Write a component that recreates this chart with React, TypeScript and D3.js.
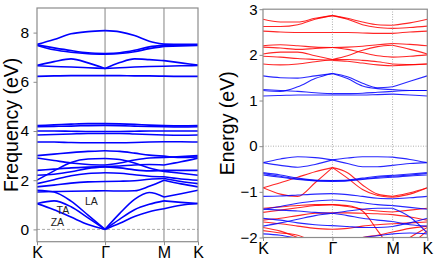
import React, { useEffect, useRef } from 'react';
import * as d3 from 'd3';

// high-symmetry path K - Γ - M - K (hexagonal, |ΓK| = 1)
const kLabels = ['K', 'Γ', 'M', 'K'];
const kTicks = [0, 1, 1.866, 2.366];
const kSamples = [0, 0.25, 0.5, 0.75, 1, 1.2165, 1.433, 1.6495, 1.866, 2.116, 2.366];

const freqTicks = [0, 2, 4, 6, 8];
const energyTicks = [-2, -1, 0, 1, 2, 3];

// phonon branches, values at kSamples
const phononBands = [
  [1.05, 0.80, 0.50, 0.20, 0.00, 0.25, 0.52, 0.72, 0.84, 0.98, 1.05],
  [1.05, 1.16, 0.92, 0.47, 0.00, 0.42, 0.80, 1.02, 1.16, 1.10, 1.05],
  [1.59, 1.52, 1.15, 0.58, 0.00, 0.65, 1.22, 1.50, 1.32, 1.45, 1.59],
  [1.52, 1.54, 1.55, 1.56, 1.57, 1.56, 1.57, 1.75, 2.00, 1.85, 1.73],
  [1.73, 1.80, 1.88, 1.93, 1.95, 1.96, 1.98, 2.04, 2.07, 1.95, 1.86],
  [1.86, 2.02, 2.18, 2.27, 2.30, 2.28, 2.22, 2.16, 2.14, 2.05, 2.00],
  [2.00, 2.38, 2.72, 2.86, 2.88, 2.84, 2.70, 2.50, 2.36, 2.28, 2.20],
  [2.20, 2.24, 2.34, 2.48, 2.54, 2.50, 2.42, 2.38, 2.40, 2.40, 2.40],
  [2.40, 2.45, 2.50, 2.53, 2.55, 2.58, 2.62, 2.64, 2.62, 2.75, 2.90],
  [2.90, 2.80, 2.70, 2.64, 2.62, 2.70, 2.82, 2.90, 2.92, 2.96, 3.00],
  [3.00, 3.06, 3.12, 3.17, 3.20, 3.17, 3.10, 3.02, 2.98, 2.92, 2.95],
  [3.55, 3.55, 3.53, 3.52, 3.52, 3.52, 3.53, 3.55, 3.56, 3.56, 3.55],
  [3.84, 3.86, 3.88, 3.90, 3.90, 3.90, 3.88, 3.86, 3.84, 3.83, 3.84],
  [4.00, 4.00, 3.99, 3.98, 3.98, 3.98, 3.99, 4.00, 4.00, 4.00, 4.00],
  [4.17, 4.19, 4.20, 4.22, 4.23, 4.22, 4.20, 4.18, 4.17, 4.16, 4.17],
  [4.22, 4.25, 4.28, 4.30, 4.30, 4.29, 4.27, 4.24, 4.22, 4.21, 4.22],
  [6.22, 6.24, 6.25, 6.25, 6.25, 6.25, 6.24, 6.24, 6.23, 6.22, 6.22],
  [6.65, 6.62, 6.60, 6.57, 6.54, 6.57, 6.60, 6.62, 6.63, 6.65, 6.66],
  [6.67, 6.82, 6.93, 6.77, 6.54, 6.78, 6.93, 6.90, 6.86, 6.77, 6.68],
  [7.48, 7.30, 7.20, 7.14, 7.12, 7.15, 7.22, 7.35, 7.44, 7.46, 7.48],
  [7.50, 7.38, 7.27, 7.18, 7.15, 7.18, 7.28, 7.42, 7.48, 7.50, 7.50],
  [7.52, 7.72, 7.95, 8.04, 8.08, 8.03, 7.88, 7.65, 7.53, 7.52, 7.52],
];

const branchLabels = [
  { text: 'ZA', k: 0.30, f: 0.28 },
  { text: 'TA', k: 0.38, f: 0.79 },
  { text: 'LA', k: 0.80, f: 1.13 },
];

// electronic bands (eV)
const redBands = [
  [2.78, 2.72, 2.72, 2.80, 2.86, 2.80, 2.72, 2.66, 2.65, 2.70, 2.78],
  [2.62, 2.62, 2.66, 2.78, 2.86, 2.78, 2.66, 2.60, 2.58, 2.60, 2.63],
  [2.52, 2.50, 2.49, 2.49, 2.49, 2.49, 2.48, 2.47, 2.47, 2.50, 2.52],
  [2.20, 2.22, 2.20, 2.17, 2.16, 2.17, 2.19, 2.22, 2.25, 2.23, 2.20],
  [2.17, 2.15, 2.12, 2.14, 2.16, 2.12, 2.05, 1.98, 1.95, 1.97, 2.00],
  [2.02, 2.06, 2.06, 1.98, 1.90, 1.98, 2.10, 2.18, 2.21, 2.12, 2.02],
  [1.97, 1.95, 1.92, 1.90, 1.88, 1.86, 1.82, 1.78, 1.76, 1.78, 1.80],
  [1.80, 1.78, 1.80, 1.85, 1.90, 1.90, 1.88, 1.85, 1.80, 1.79, 1.80],
  [-0.91, -0.80, -0.68, -0.56, -0.47, -0.58, -0.85, -1.05, -1.10, -1.02, -0.91],
  [-0.91, -1.05, -1.10, -0.80, -0.47, -0.70, -0.95, -1.08, -1.12, -1.05, -0.91],
  [-1.36, -1.33, -1.30, -1.28, -1.28, -1.32, -1.38, -1.42, -1.44, -1.40, -1.36],
  [-1.45, -1.40, -1.35, -1.30, -1.28, -1.30, -1.42, -1.85, -2.30, -2.15, -1.85],
  [-1.62, -1.58, -1.52, -1.47, -1.46, -1.46, -1.47, -1.48, -1.50, -1.55, -1.62],
  [-1.66, -1.70, -1.75, -1.80, -1.82, -1.80, -1.75, -1.72, -1.70, -1.68, -1.66],
  [-1.85, -1.90, -1.95, -2.10, -2.20, -2.10, -2.00, -1.95, -1.88, -1.80, -1.75],
  [-1.78, -1.86, -2.00, -2.15, -2.25, -2.20, -2.10, -2.20, -2.30, -2.00, -1.78],
];

const blueBands = [
  [1.54, 1.50, 1.49, 1.54, 1.59, 1.52, 1.38, 1.28, 1.30, 1.42, 1.54],
  [1.22, 1.20, 1.30, 1.48, 1.59, 1.48, 1.32, 1.26, 1.24, 1.22, 1.22],
  [1.24, 1.22, 1.20, 1.17, 1.15, 1.15, 1.16, 1.18, 1.20, 1.22, 1.22],
  [1.10, 1.11, 1.12, 1.12, 1.12, 1.12, 1.12, 1.13, 1.14, 1.12, 1.10],
  [-0.36, -0.28, -0.23, -0.25, -0.30, -0.26, -0.23, -0.23, -0.24, -0.29, -0.36],
  [-0.36, -0.42, -0.46, -0.40, -0.30, -0.38, -0.45, -0.45, -0.42, -0.38, -0.36],
  [-0.58, -0.63, -0.70, -0.74, -0.75, -0.74, -0.70, -0.66, -0.64, -0.61, -0.58],
  [-0.60, -0.66, -0.72, -0.75, -0.76, -0.75, -0.72, -0.68, -0.66, -0.63, -0.60],
  [-0.63, -0.68, -0.73, -0.76, -0.77, -0.76, -0.73, -0.70, -0.68, -0.65, -0.63],
  [-1.10, -1.09, -1.07, -1.05, -1.04, -1.06, -1.10, -1.14, -1.15, -1.13, -1.10],
  [-1.38, -1.32, -1.25, -1.20, -1.18, -1.20, -1.24, -1.28, -1.30, -1.34, -1.38],
  [-1.75, -1.68, -1.60, -1.52, -1.47, -1.42, -1.38, -1.36, -1.36, -1.55, -1.90],
  [-1.38, -1.40, -1.42, -1.45, -1.47, -1.52, -1.58, -1.62, -1.65, -1.72, -1.75],
  [-1.58, -1.62, -1.68, -1.72, -1.74, -1.76, -1.78, -1.78, -1.76, -1.68, -1.58],
  [-1.92, -1.95, -2.02, -2.08, -2.10, -2.06, -2.00, -1.96, -1.92, -1.90, -1.92],
];

const FONT = "'Liberation Sans', Arial, Helvetica, sans-serif";
const FRAME = '#8c8c8c';

// split a band at Γ and M so the segments can kink there
const segments = [[0, 4], [4, 8], [8, 10]];

const App = () => {
  const ref = useRef<SVGSVGElement>(null);

  useEffect(() => {
    const svg = d3.select(ref.current);
    svg.selectAll('*').remove();

    const drawPanel = (opts: any) => {
      const { x, y, id, ticks, label, labelX, tickFont, tickPad } = opts;
      const [x0, x1] = x.range();
      const [y0, y1] = y.range();
      const g = svg.append('g');

      g.append('clipPath').attr('id', id)
        .append('rect').attr('x', x0).attr('y', y1).attr('width', x1 - x0).attr('height', y0 - y1);

      const plot = g.append('g').attr('clip-path', `url(#${id})`);
      opts.grid(plot);

      const segLine = d3.line<any>()
        .x((d) => x(kSamples[d.i]))
        .y((d) => y(d.v))
        .curve(d3.curveMonotoneX);

      opts.series.forEach((s: any) => {
        s.bands.forEach((b: number[]) => {
          segments.forEach(([a, e]) => {
            const pts = b.map((v, i) => ({ v, i })).slice(a, e + 1);
            plot.append('path')
              .attr('d', segLine(pts))
              .attr('fill', 'none')
              .attr('stroke', s.color)
              .attr('stroke-width', s.width)
              .attr('stroke-opacity', s.opacity);
          });
        });
      });

      // y axis
      const ya = g.append('g').attr('transform', `translate(${x0},0)`)
        .call(d3.axisLeft(y).tickValues(ticks).tickSize(3.5).tickPadding(tickPad)
          .tickFormat(d3.format('d')));
      ya.select('.domain').remove();
      ya.selectAll('line').attr('stroke', FRAME).attr('stroke-width', 1);
      ya.selectAll('text').attr('font-size', tickFont).attr('font-family', FONT).attr('fill', '#000');

      // k axis
      const xa = g.append('g').attr('transform', `translate(0,${y0})`)
        .call(d3.axisBottom(x).tickValues(kTicks).tickSize(3.5).tickPadding(1.5)
          .tickFormat((d, i) => kLabels[i]));
      xa.select('.domain').remove();
      xa.selectAll('line').attr('stroke', FRAME).attr('stroke-width', 1);
      xa.selectAll('text').attr('font-size', 16).attr('font-family', FONT).attr('fill', '#000');

      g.append('rect')
        .attr('x', x0).attr('y', y1).attr('width', x1 - x0).attr('height', y0 - y1)
        .attr('fill', 'none').attr('stroke', FRAME).attr('stroke-width', 1.2);

      g.append('text')
        .attr('transform', `translate(${labelX},${(y0 + y1) / 2}) rotate(-90)`)
        .attr('text-anchor', 'middle')
        .attr('font-size', 19.5)
        .attr('font-family', FONT)
        .text(label);

      return g;
    };

    // phonons
    const xL = d3.scaleLinear().domain([0, 2.366]).range([37, 198]);
    const yL = d3.scaleLinear().domain([-0.5, 9.0]).range([241.7, 8]);

    const left = drawPanel({
      x: xL, y: yL, id: 'clipL', ticks: freqTicks, label: 'Frequency (eV)', labelX: 17.5,
      tickFont: 15.5, tickPad: 4.5,
      series: [{ bands: phononBands, color: '#0000ff', width: 1.6, opacity: 1 }],
      grid: (p: any) => {
        p.selectAll('.vl').data(kTicks.slice(1, 3)).enter().append('line')
          .attr('x1', (d: number) => xL(d)).attr('x2', (d: number) => xL(d))
          .attr('y1', yL.range()[0]).attr('y2', yL.range()[1])
          .attr('stroke', '#999').attr('stroke-width', 1.2);
        p.append('line')
          .attr('x1', xL.range()[0]).attr('x2', xL.range()[1])
          .attr('y1', yL(0)).attr('y2', yL(0))
          .attr('stroke', '#aaa').attr('stroke-width', 1).attr('stroke-dasharray', '3,2');
      },
    });

    left.selectAll('.blabel').data(branchLabels).enter().append('text')
      .attr('x', (d) => xL(d.k)).attr('y', (d) => yL(d.f))
      .attr('dy', '0.35em')
      .attr('text-anchor', 'middle')
      .attr('font-size', 10.5)
      .attr('font-family', FONT)
      .attr('fill', '#222')
      .text((d) => d.text);

    // electrons
    const xR = d3.scaleLinear().domain([0, 2.366]).range([263, 427.3]);
    const yR = d3.scaleLinear().domain([-2, 3]).range([237.5, 9.2]);

    drawPanel({
      x: xR, y: yR, id: 'clipR', ticks: energyTicks, label: 'Energy (eV)', labelX: 234,
      tickFont: 15, tickPad: 2,
      series: [
        { bands: redBands, color: '#ff0000', width: 1.1, opacity: 0.85 },
        { bands: blueBands, color: '#0000ff', width: 1.1, opacity: 0.85 },
      ],
      grid: (p: any) => {
        p.selectAll('.vl').data(kTicks.slice(1, 3)).enter().append('line')
          .attr('x1', (d: number) => xR(d)).attr('x2', (d: number) => xR(d))
          .attr('y1', yR.range()[0]).attr('y2', yR.range()[1])
          .attr('stroke', '#999').attr('stroke-width', 0.8).attr('stroke-dasharray', '1,1.5');
        p.append('line')
          .attr('x1', xR.range()[0]).attr('x2', xR.range()[1])
          .attr('y1', yR(0)).attr('y2', yR(0))
          .attr('stroke', '#999').attr('stroke-width', 0.8).attr('stroke-dasharray', '1,1.5');
      },
    });
  }, []);

  return (
    <svg ref={ref} width={436} height={261}
      style={{ position: 'absolute', left: 0, top: 0, background: '#fff' }} />
  );
};

export default App;
